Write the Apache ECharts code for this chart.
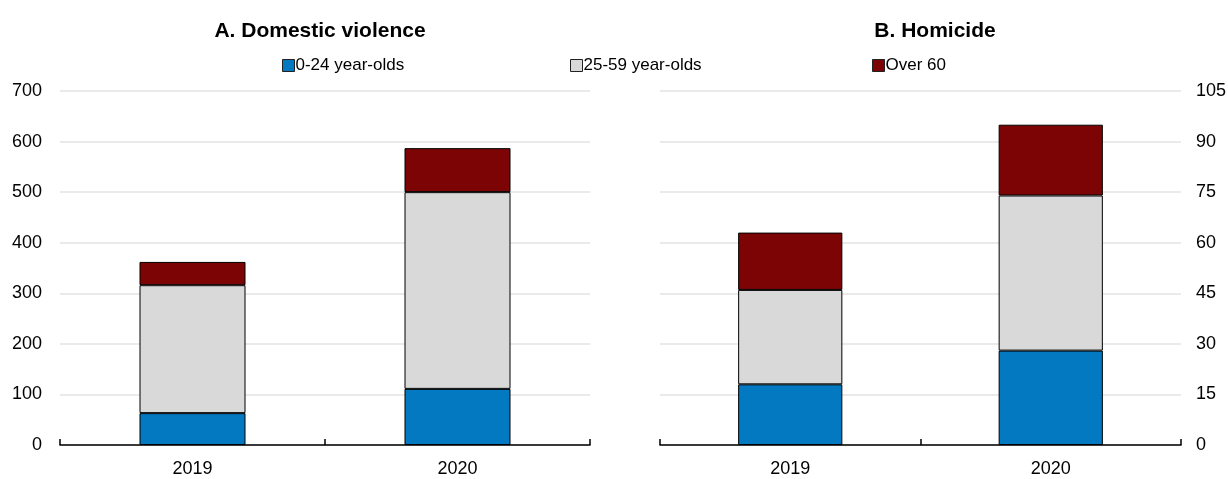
<!DOCTYPE html>
<html>
<head>
<meta charset="utf-8">
<script src="https://cdn.jsdelivr.net/npm/echarts@6/dist/echarts.min.js"></script>
<style>
html, body { margin: 0; padding: 0; background: #fff; }
#chart { width: 1228px; height: 479px; }
</style>
</head>
<body>
<div id="chart"></div>
<script>
const years = ['2019', '2020'];
const seriesNames = ['0-24 year-olds', '25-59 year-olds', 'Over 60'];

// A. Domestic violence
const dvYoung = [63, 111];
const dvMid = [253, 389];
const dvOld = [46, 87];

// B. Homicide
const hoYoung = [18, 28];
const hoMid = [28, 46];
const hoOld = [17, 21];

const colors = ['#0279c1', '#d9d9d9', '#7c0405'];
const font = "'Liberation Sans', Arial, sans-serif";

const chart = echarts.init(document.getElementById('chart'));

const xAxisBase = gridIndex => ({
    type: 'category',
    gridIndex: gridIndex,
    data: years,
    axisLine: { lineStyle: { color: '#000', width: 1.5 } },
    axisTick: { show: true, inside: true, length: 6, lineStyle: { color: '#000', width: 1.5 } },
    axisLabel: { color: '#000', fontSize: 18, fontFamily: font, margin: 15 }
});

const yAxisBase = (gridIndex, max, interval, position, margin) => ({
    type: 'value',
    gridIndex: gridIndex,
    min: 0,
    max: max,
    interval: interval,
    position: position,
    axisLine: { show: false },
    axisTick: { show: false },
    splitLine: { lineStyle: { color: '#e3e3e3', width: 1.5 } },
    axisLabel: { color: '#000', fontSize: 18, fontFamily: font, margin: margin }
});

const makeSeries = (data, idx, axisIndex, stack) => ({
    name: seriesNames[idx],
    type: 'bar',
    stack: stack,
    xAxisIndex: axisIndex,
    yAxisIndex: axisIndex,
    barWidth: '40%',
    data: data,
    itemStyle: { color: colors[idx], borderColor: '#000', borderWidth: 1 },
    animation: false
});

const legendAt = (name, left) => ({
    data: [name],
    left: left,
    top: 52,
    itemWidth: 12,
    itemHeight: 12,
    icon: 'rect',
    itemStyle: { borderColor: '#222', borderWidth: 1 },
    textStyle: { color: '#000', fontSize: 17, fontFamily: font, padding: [0, 0, 0, -4] }
});

chart.setOption({
    backgroundColor: '#fff',
    title: [{
        text: 'A. Domestic violence',
        left: 315,
        top: 16,
        textAlign: 'center',
        textStyle: { color: '#000', fontSize: 21, fontWeight: 'bold', fontFamily: font }
    }, {
        text: 'B. Homicide',
        left: 930,
        top: 16,
        textAlign: 'center',
        textStyle: { color: '#000', fontSize: 21, fontWeight: 'bold', fontFamily: font }
    }],
    legend: [
        legendAt(seriesNames[0], 277),
        legendAt(seriesNames[1], 565),
        legendAt(seriesNames[2], 867)
    ],
    grid: [
        { left: 60, right: 638, top: 91, bottom: 34, outerBoundsMode: 'none' },
        { left: 660, right: 47, top: 91, bottom: 34, outerBoundsMode: 'none' }
    ],
    xAxis: [xAxisBase(0), xAxisBase(1)],
    yAxis: [yAxisBase(0, 700, 100, 'left', 18), yAxisBase(1, 105, 15, 'right', 15)],
    series: [
        makeSeries(dvYoung, 0, 0, 'dv'),
        makeSeries(dvMid, 1, 0, 'dv'),
        makeSeries(dvOld, 2, 0, 'dv'),
        makeSeries(hoYoung, 0, 1, 'ho'),
        makeSeries(hoMid, 1, 1, 'ho'),
        makeSeries(hoOld, 2, 1, 'ho')
    ]
});
</script>
</body>
</html>
